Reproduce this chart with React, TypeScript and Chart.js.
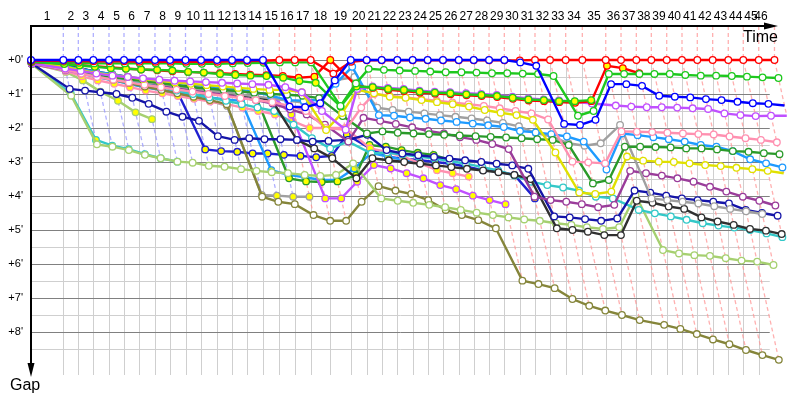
import { useEffect, useRef } from "react";
import { Chart, registerables } from "chart.js";

Chart.register(...registerables);

// Leader's cumulative race time at the end of each lap (minutes), lap 0 = start
const leaderLapEnds = [0, 4.31, 6.31, 8.31, 10.4, 12.4, 14.4, 16.53, 18.53, 20.6, 22.67, 24.8, 26.8, 28.8, 30.93, 33.11, 35.16, 37.29, 39.91, 42.63, 44.76, 46.76, 48.84, 50.89, 52.89, 54.93, 57.03, 59.03, 61.07, 63.11, 65.16, 67.2, 69.2, 71.29, 73.51, 76.63, 78.67, 80.71, 82.71, 84.76, 86.8, 88.84, 90.89, 92.97, 94.97, 97.03, 99.13];
const lapLabels = leaderLapEnds.slice(1).map((_, i) => String(i + 1));
const gapTicks = [0, 1, 2, 3, 4, 5, 6, 7, 8];
const gapTickLabels = gapTicks.map((g) => "+" + g + "'");

// Gap to the leader (minutes) after each lap, index = lap number
const blueW = [0,0,0,0,0,0,0,0,0,0,0,0,0,0,0, 1.37,1.39,1.27,0.6, 0,0,0,0,0,0,0,0,0,0,0, 0.07,0.17, 1.88,1.91,1.76, 0.71,0.71,0.76,1.05,1.08,1.1,1.15,1.18,1.23,1.27,1.29,1.34];
const redW = [0.02, 0.02,0.03,0.04,0.04,0.04,0.05,0.05,0.05,0.05,0.05,0.05,0.04,0.03,0.02, 0,0,0, 0.4, 0.05, 0.01,0.01,0.01,0.01,0.01,0.01,0.01,0.01,0.01,0.01,0.01, 0,0,0,0,0,0,0,0,0,0,0,0,0,0,0,0];
const greenW = [0.04, 0.05,0.08,0.1,0.1,0.1,0.1,0.1,0.1,0.11,0.11,0.11,0.1,0.09,0.08, 0.07,0.07,0.07, 1.35, 0.69, 0.26,0.29,0.31,0.32,0.34,0.36,0.36,0.37,0.39,0.39,0.4, 0.41,0.47, 1.64,1.5, 0.41,0.41,0.41,0.41,0.41,0.44,0.46,0.46,0.47,0.49,0.51,0.53];
const redY = [0.06, 0.1,0.15,0.18,0.22,0.25,0.28,0.3,0.33,0.35,0.37,0.39,0.41,0.43,0.45, 0.47,0.52,0.49, 0, 0.76, 0.82, 0.88,0.91,0.96,0.99,1.01,1.04,1.06,1.09,1.14,1.19,1.21,1.24,1.26,1.21, 0.17,0.24,0.39];
const greenY = [0.05, 0.12,0.16,0.2,0.24,0.26,0.28,0.29,0.31,0.35,0.37,0.41,0.44,0.46,0.47, 0.52,0.62,0.67, 1.37, 0.78, 0.8, 0.85,0.88,0.93,0.96,0.98,1.01,1.03,1.06,1.11,1.16,1.18,1.21,1.21,1.18];
const yellowW = [0.08, 0.2,0.3,0.38,0.45,0.5,0.56,0.61,0.66,0.7,0.74,0.78,0.82,0.85,0.88, 0.88,0.95, 2.06, 1.56, 0.88, 0.98, 1.08,1.11,1.18,1.24,1.3,1.37,1.47,1.55,1.62,1.76, 2.72, 3.9,3.94,3.87, 2.84,2.96,2.99,3.0,3.04,3.09,3.12,3.17,3.21,3.26,3.33];
const violetW = [0.1, 0.25,0.32,0.4,0.46,0.5,0.54,0.58,0.61,0.63,0.65,0.67,0.69,0.71,0.73, 0.8,0.95,1.5, 2.05, 0.85, 0.78, 0.82,0.85,0.9,0.93,0.95,0.98,1.0,1.03,1.08,1.13,1.16,1.19,1.23,1.28, 1.34,1.37,1.39,1.39,1.4,1.42,1.44,1.57,1.62,1.65,1.64,1.64];
const violetY = [0.12, 0.3,0.4,0.48,0.55,0.6,0.66,0.71,0.76,0.8,0.84,0.88,0.92,0.96,1.0, 1.6, 4.07,4.07, 3.58, 3.09,3.19,3.33,3.48,3.68,3.8,3.99,4.12,4.24];
const pinkW = [0.1, 0.28,0.4,0.5,0.58,0.66,0.73,0.8,0.87,0.93,1.0,1.06,1.12,1.18,1.24, 1.35,1.5,2.0, 2.05, 1.4, 1.0, 1.05,1.1,1.15,1.2,1.25,1.3,1.35,1.42,1.5,1.57,1.75, 2.99,3.01,3.04, 2.1,2.11,2.12,2.14,2.16,2.18,2.19,2.25,2.3,2.35,2.42];
const pinkY = [0.12, 0.32,0.48,0.6,0.7,0.8,0.9,0.98,1.06,1.14,1.22,1.3,1.4,1.5,1.6, 1.8,2.0,2.0, 2.0, 2.6, 2.7, 2.84,3.04,3.24,3.33,3.43];
const dkgreenW = [0.1, 0.22,0.32,0.42,0.5,0.56,0.62,0.68,0.74,0.8,0.84,0.88,0.92,0.96,1.0, 1.02,1.05,1.12, 1.65, 2.16, 2.1, 2.14,2.16,2.18,2.2,2.22,2.24,2.26,2.28,2.3,2.33, 2.35,2.5, 3.63,3.53, 2.55,2.55,2.56,2.57,2.6,2.6,2.63,2.68,2.7,2.74,2.77];
const dkgreenY = [0.1, 0.2,0.3,0.38,0.46,0.54,0.62,0.68,0.74,0.8,0.85,0.9,0.93,0.96, 3.48, 3.57,3.59,3.57, 3.4, 2.5, 2.55, 2.65,2.73,2.79,2.94];
const lightblueW = [0.06, 0.18,0.26,0.34,0.42,0.5,0.56,0.62,0.67,0.72,0.77,0.82,0.87,0.94,1.05, 1.18,1.2,1.17, 0.7, 0.2, 1.62, 1.64,1.69,1.73,1.78,1.82,1.87,1.92,1.97, 2.09,2.13,2.18,2.25,2.4, 3.22, 2.16,2.21,2.27,2.33,2.4,2.5,2.55,2.68,2.92,3.04,3.16];
const lightblueY = [0.1, 0.3,0.4,0.5,0.6,0.7,0.8,0.88,0.96,1.04,1.1,1.16,1.2, 3.24, 3.38, 3.45,3.53,3.53, 3.19, 2.74, 2.84, 2.94,3.04,3.18];
const purpleW = [0.1, 0.22,0.32,0.4,0.48,0.56,0.64,0.72,0.8,0.88,0.95,1.02,1.1,1.18,1.28, 1.45,1.6,1.9, 2.4, 1.7, 1.79,1.88,1.98,2.09,2.16,2.27,2.35,2.47,2.62, 4.02,4.12,4.17,4.24,4.33,4.26, 3.26,3.33,3.4,3.48,3.58,3.73,3.87,4.02,4.14,4.28];
const grayW = [0.08, 0.25,0.34,0.42,0.5,0.57,0.64,0.7,0.77,0.83,0.89,0.95,1.01,1.07,1.13, 1.2,1.25,1.3, 0.6, 0.5, 1.4, 1.47,1.52,1.57,1.62,1.67,1.72,1.78,1.85,1.95, 2.15,2.25,2.45,2.52,2.45, 1.91, 4.07,4.12,4.17,4.22,4.3,4.38,4.45,4.53];
const grayY = [0.1, 0.3,0.4,0.5,0.6,0.7,0.8,0.9,1.0,1.1,1.2,1.35, 3.97,3.99,4.02,4.02];
const navyW = [0.1, 0.85,0.9,0.95,1.0,1.11,1.29,1.52,1.67,1.79,2.24, 2.35,2.3,2.33,2.33,2.35,2.4,2.38, 2.35, 2.2, 2.65, 2.75,2.8,2.85,2.9,2.95,3.0,3.05,3.1,3.2, 4.6,4.63,4.68,4.73,4.66, 3.84,3.9,3.99,4.07,4.12,4.17,4.22,4.41,4.5,4.58];
const blueY = [0.08, 0.15,0.25,0.35,0.45,0.55,0.65,0.75,0.9, 2.63,2.68,2.7,2.75,2.75,2.79,2.82,2.86,2.82, 2.2, 2.6, 2.85, 2.9,2.95,3.0,3.05,3.14,3.24,3.28,3.38, 4.07];
const blackW = [0.06, 0.15,0.25,0.34,0.42,0.5,0.58,0.65,0.72,0.8,0.88,0.96,1.03,1.1,1.18, 2.35,2.6,2.89, 3.48, 2.89, 2.95, 3.0,3.05,3.1,3.15,3.2,3.25,3.3,3.38,3.5, 4.95,5.0,5.05,5.15,5.15, 4.14,4.2,4.31,4.38,4.63,4.75,4.85,4.97,5.02,5.12];
const turqW = [0.1, 0.25,0.34,0.43,0.52,0.61,0.7,0.8,0.9,1.0,1.1,1.2,1.3,1.4,1.5, 1.9,2.3,2.6, 2.4, 2.75, 2.72, 2.78,2.84,2.9,2.97,3.05,3.15,3.25,3.4, 3.58,3.68,3.75,3.84,4.02,4.07, 4.41,4.51,4.6,4.7,4.8,4.87,4.93,5.0,5.1,5.21];
const turqY = [0.1, 0.98, 2.35,2.52,2.62,2.77,2.89,2.99];
const ygreenW = [0.12, 1.05, 2.48,2.55,2.65,2.79,2.89,2.99,3.02,3.11,3.14,3.21,3.26,3.3,3.33, 3.38,3.41,3.38, 3.04, 4.07, 4.14,4.2,4.26,4.33,4.41,4.49,4.56,4.63,4.69, 4.73,4.8,4.85,4.92,4.97,4.92, 3.97, 5.59,5.69,5.74,5.76,5.83,5.9,5.93,6.03];
const ygreenY = [0.1, 0.35, 0.6, 0.93, 1.2, 1.54, 1.74];
const oliveW = [0.12, 0.28,0.38,0.48,0.58,0.68,0.78,0.88,0.98,1.08,1.18,1.3, 4.02,4.17,4.24, 4.56,4.73,4.73, 4.17, 3.71, 3.84, 3.94,4.12,4.41,4.56,4.71,4.95, 6.49,6.59,6.71,7.03,7.23,7.37,7.5,7.65, 7.79,7.91,8.06,8.22,8.36,8.53,8.68,8.82];

// Series styling (first = drawn on top)
const drivers = [
  { gaps: blueW, color: "#0000ff", fill: "#ffffff" },
  { gaps: redW, color: "#ff0000", fill: "#ffffff" },
  { gaps: greenW, color: "#1ec81e", fill: "#ffffff" },
  { gaps: greenY, color: "#1ec81e", fill: "#ffff00" },
  { gaps: redY, color: "#ff0000", fill: "#ffff00" },
  { gaps: violetW, color: "#c050ff", fill: "#ffffff" },
  { gaps: yellowW, color: "#e0e000", fill: "#ffffff" },
  { gaps: pinkW, color: "#ff90b0", fill: "#ffffff" },
  { gaps: dkgreenW, color: "#2a9a2a", fill: "#ffffff" },
  { gaps: lightblueW, color: "#1e9bff", fill: "#ffffff" },
  { gaps: grayW, color: "#a0a0a0", fill: "#ffffff" },
  { gaps: purpleW, color: "#9a3c9a", fill: "#ffffff" },
  { gaps: navyW, color: "#1515a8", fill: "#ffffff" },
  { gaps: blackW, color: "#303030", fill: "#ffffff" },
  { gaps: turqW, color: "#33c8c8", fill: "#ffffff" },
  { gaps: ygreenW, color: "#a6d070", fill: "#ffffff" },
  { gaps: oliveW, color: "#85853a", fill: "#ffffff" },
  { gaps: violetY, color: "#c050ff", fill: "#ffff00" },
  { gaps: pinkY, color: "#ff90b0", fill: "#ffff00" },
  { gaps: dkgreenY, color: "#2a9a2a", fill: "#ffff00" },
  { gaps: lightblueY, color: "#1e9bff", fill: "#ffff00" },
  { gaps: blueY, color: "#2020d0", fill: "#ffff00" },
  { gaps: grayY, color: "#a0a0a0", fill: "#ffff00" },
  { gaps: turqY, color: "#33c8c8", fill: "#ffff00" },
  { gaps: ygreenY, color: "#a6d070", fill: "#ffff00" },
];

const GAP_MIN = -1;
const GAP_MAX = 9.265;
const TIME_MAX = 99.6;
const GRID_RIGHT = 98.5;

const raceGrid = {
  id: "raceGrid",
  beforeDatasetsDraw(chart: any) {
    const { ctx, chartArea, scales } = chart;
    const xs = scales.x;
    const ys = scales.y;
    const top = chartArea.top;
    const bottom = chartArea.bottom;
    const left = chartArea.left;
    const gridRight = xs.getPixelForValue(GRID_RIGHT);
    ctx.save();
    ctx.lineWidth = 1;
    ctx.strokeStyle = "#cfcfcf";
    for (let n = 1; n < leaderLapEnds.length - 1; n++) {
      const px = Math.round(xs.getPixelForValue(leaderLapEnds[n])) + 0.5;
      ctx.beginPath();
      ctx.moveTo(px, ys.getPixelForValue(0));
      ctx.lineTo(px, bottom);
      ctx.stroke();
    }
    for (let g = 0.5; g <= 8.5; g += 1) {
      const py = Math.round(ys.getPixelForValue(g)) + 0.5;
      ctx.strokeStyle = "#cfcfcf";
      ctx.beginPath();
      ctx.moveTo(left, py);
      ctx.lineTo(gridRight, py);
      ctx.stroke();
    }
    for (const g of gapTicks) {
      const py = Math.round(ys.getPixelForValue(g)) + 0.5;
      ctx.strokeStyle = "#808080";
      ctx.beginPath();
      ctx.moveTo(left, py);
      ctx.lineTo(gridRight, py);
      ctx.stroke();
    }
    ctx.setLineDash([4, 3]);
    ctx.lineWidth = 1.3;
    for (let n = 1; n < leaderLapEnds.length; n++) {
      const pts = drivers
        .filter((d) => d.gaps.length > n)
        .map((d) => d.gaps[n])
        .sort((a, b) => a - b);
      ctx.strokeStyle = n <= 14 ? "rgba(150,150,255,0.75)" : "rgba(255,150,150,0.75)";
      ctx.beginPath();
      const px0 = xs.getPixelForValue(leaderLapEnds[n]);
      ctx.moveTo(px0, top);
      ctx.lineTo(px0, ys.getPixelForValue(0));
      for (const g of pts) {
        ctx.lineTo(xs.getPixelForValue(leaderLapEnds[n] + g), ys.getPixelForValue(g));
      }
      ctx.stroke();
    }
    ctx.restore();
  },
  afterDatasetsDraw(chart: any) {
    const { ctx, chartArea, scales } = chart;
    const xs = scales.x;
    const ys = scales.y;
    const top = chartArea.top;
    const left = chartArea.left;
    ctx.save();
    ctx.setLineDash([]);
    ctx.strokeStyle = "#000";
    ctx.fillStyle = "#000";
    ctx.lineWidth = 2;
    ctx.beginPath();
    ctx.moveTo(left - 1, top);
    ctx.lineTo(chartArea.right - 12, top);
    ctx.stroke();
    ctx.beginPath();
    ctx.moveTo(chartArea.right - 14, top - 3.5);
    ctx.lineTo(chartArea.right, top);
    ctx.lineTo(chartArea.right - 14, top + 3.5);
    ctx.closePath();
    ctx.fill();
    ctx.beginPath();
    ctx.moveTo(left, top);
    ctx.lineTo(left, chartArea.bottom - 10);
    ctx.stroke();
    ctx.beginPath();
    ctx.moveTo(left - 3.5, chartArea.bottom - 12);
    ctx.lineTo(left, chartArea.bottom + 2);
    ctx.lineTo(left + 3.5, chartArea.bottom - 12);
    ctx.closePath();
    ctx.fill();
    ctx.font = "12px 'Liberation Sans', Arial, sans-serif";
    ctx.textAlign = "center";
    ctx.textBaseline = "middle";
    for (let n = 1; n < leaderLapEnds.length; n++) {
      const a = xs.getPixelForValue(leaderLapEnds[n - 1]);
      const b = xs.getPixelForValue(leaderLapEnds[n]);
      const cx = Math.min((a + b) / 2, chartArea.right - 17);
      ctx.fillText(lapLabels[n - 1], cx, top - 9);
    }
    ctx.font = "11px 'Liberation Sans', Arial, sans-serif";
    ctx.textAlign = "right";
    gapTicks.forEach((g, i) => {
      ctx.fillText(gapTickLabels[i], left - 8, ys.getPixelForValue(g));
    });
    ctx.font = "16px 'Liberation Sans', Arial, sans-serif";
    ctx.textAlign = "right";
    ctx.textBaseline = "top";
    ctx.fillText("Time", chartArea.right, top + 4);
    ctx.textAlign = "left";
    ctx.fillText("Gap", 10, chartArea.bottom + 3);
    ctx.restore();
  },
};

export default function App() {
  const ref = useRef<HTMLCanvasElement | null>(null);
  useEffect(() => {
    if (!ref.current) return;
    const datasets = drivers.map((d) => ({
      data: d.gaps.map((g, lap) => ({ x: leaderLapEnds[lap] + g, y: g })),
      borderColor: d.color,
      backgroundColor: d.fill,
      pointBackgroundColor: d.fill,
      pointBorderColor: d.color,
      pointBorderWidth: 1.3,
      pointRadius: 3.3,
      borderWidth: 2.4,
      tension: 0,
      clip: false as any,
    }));
    const chart = new Chart(ref.current, {
      type: "line",
      data: { datasets },
      options: {
        animation: false,
        responsive: false,
        devicePixelRatio: 1,
        parsing: false as any,
        layout: { padding: { left: 31, top: 26, right: 22, bottom: 25 } },
        plugins: { legend: { display: false }, tooltip: { enabled: false } },
        scales: {
          x: { type: "linear", min: 0, max: TIME_MAX, display: false },
          y: { type: "linear", min: GAP_MIN, max: GAP_MAX, reverse: true, display: false },
        },
      },
      plugins: [raceGrid],
    });
    return () => chart.destroy();
  }, []);
  return (
    <div style={{ position: "absolute", left: 0, top: 0, width: 800, height: 400, background: "#fff" }}>
      <canvas ref={ref} width={800} height={400} />
    </div>
  );
}
